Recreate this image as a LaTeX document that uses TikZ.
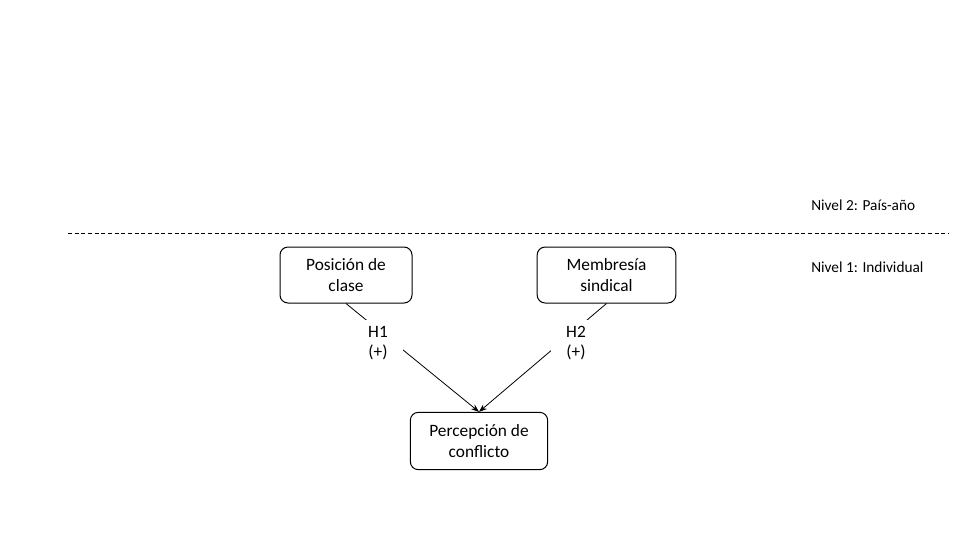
\documentclass[tikz,border=0pt]{standalone}
\usepackage{fontspec}
\setmainfont{Carlito}
\usetikzlibrary{arrows.meta}
\begin{document}
\begin{tikzpicture}[x=0.75pt,y=-0.75pt,
    varbox/.style={draw,rounded corners=6pt,line width=0.75pt,
      minimum width=99pt,minimum height=42pt,align=center,
      font=\fontsize{13}{15.5}\selectfont},
    hyplabel/.style={fill=white,align=center,minimum width=37pt,
      minimum height=34pt,font=\fontsize{13}{15.5}\selectfont},
    levellabel/.style={anchor=west,inner sep=0pt,font=\fontsize{11.5}{13}\selectfont}]
      \useasboundingbox (0,0) rectangle (960,540);
      \draw
        (346,275) node[varbox] (clase){Posición de\\clase}
        (606.5,275) node[varbox,minimum width=104pt] (sindical){Membresía\\sindical}
        (479,441) node[varbox,minimum width=103pt,minimum height=43pt] (conflicto){Percepción de\\conflicto};
      \coordinate (left end) at (68,233);
      \coordinate (right end) at (949,233);
      \draw[dash pattern=on 3pt off 2pt,line width=0.55pt] (left end) -- (right end);
      \node[levellabel] (nivel2) at (811,205) {Nivel 2: País-año};
      \node[levellabel] (nivel1) at (811,267) {Nivel 1: Individual};
      \begin{scope}[-{Stealth[length=6pt,width=4.5pt]},line width=0.6pt]
        \draw (clase.south) to (conflicto.north);
        \draw (sindical.south) to (conflicto.north);
      \end{scope}
      \node[hyplabel] (h1) at (378,343) {H1\\(+)};
      \node[hyplabel] (h2) at (576,343) {H2\\(+)};
    \end{tikzpicture}
\end{document}
